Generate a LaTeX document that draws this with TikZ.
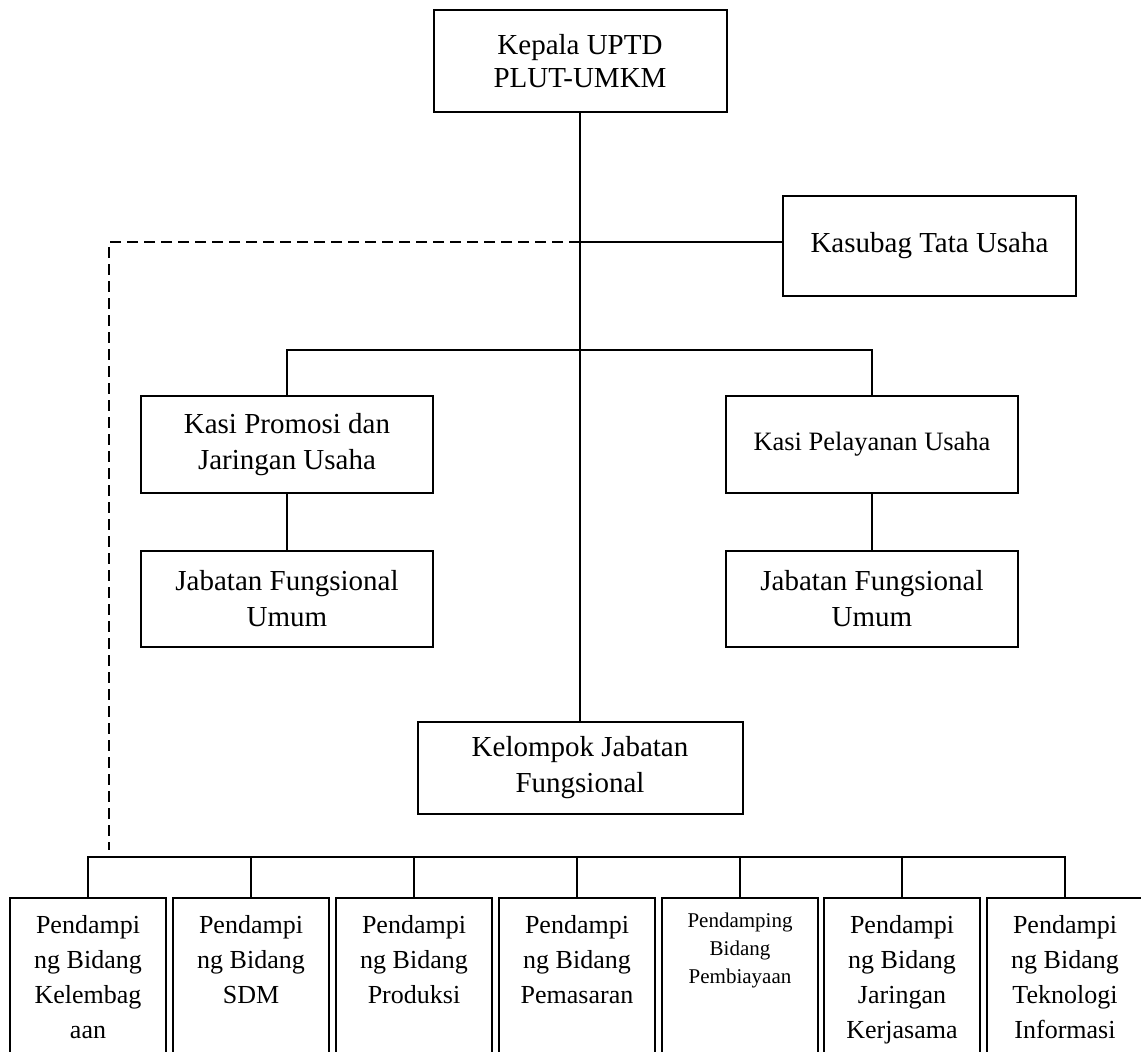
\documentclass[tikz,border=0pt]{standalone}
\usepackage{fontspec}
\setmainfont{Liberation Serif}
\begin{document}
\begin{tikzpicture}[x=1pt,y=-1pt,
  box/.style={draw, line width=2pt, inner sep=0pt, align=center, minimum width=#1},
  box/.default=293pt,
  big/.style={font=\fontsize{29pt}{36pt}\selectfont},
  conn/.style={line width=1.8pt},
  dashconn/.style={line width=1.8pt, dash pattern=on 11pt off 6pt},
  lower/.style={draw, line width=2pt, inner sep=0pt, minimum width=156pt, minimum height=164pt}
]
\useasboundingbox (0,0) rectangle (1141,1052);
% top level
\node[box, big, minimum height=102pt, font=\fontsize{29pt}{33pt}\selectfont] (top) at (580,61) {Kepala UPTD\\PLUT-UMKM};
\node[box, big, minimum height=100pt] (ks) at (929.5,246) {Kasubag Tata Usaha};
% kasi
\node[box=292pt, big, minimum height=97pt] (k1) at (287,444.5) {Kasi Promosi dan\\Jaringan Usaha};
\node[box=292pt, minimum height=97pt, font=\fontsize{26.5pt}{32pt}\selectfont] (k2) at (872,444.5) {Kasi Pelayanan Usaha};
\node[box=292pt, big, minimum height=96pt] (j1) at (287,599) {Jabatan Fungsional\\Umum};
\node[box=292pt, big, minimum height=96pt] (j2) at (872,599) {Jabatan Fungsional\\Umum};
\node[box=325pt, big, minimum height=92pt] (kel) at (580,768) {Kelompok Jabatan\\Fungsional};
% bottom row
\newcommand{\lowtext}[1]{\parbox[c][164pt][t]{152pt}{\centering\fontsize{26pt}{35pt}\selectfont\rule{0pt}{35pt}#1}}
\newcommand{\lowsmall}[1]{\parbox[c][164pt][t]{152pt}{\centering\fontsize{21pt}{28pt}\selectfont\rule{0pt}{29pt}#1}}
\node[lower] (b1) at (88,980) {\lowtext{Pendampi\\ng Bidang\\Kelembag\\aan}};
\node[lower] (b2) at (251,980) {\lowtext{Pendampi\\ng Bidang\\SDM}};
\node[lower] (b3) at (414,980) {\lowtext{Pendampi\\ng Bidang\\Produksi}};
\node[lower] (b4) at (577,980) {\lowtext{Pendampi\\ng Bidang\\Pemasaran}};
\node[lower] (b5) at (740,980) {\lowsmall{Pendamping\\Bidang\\Pembiayaan}};
\node[lower] (b6) at (902,980) {\lowtext{Pendampi\\ng Bidang\\Jaringan\\Kerjasama}};
\node[lower] (b7) at (1065,980) {\lowtext{Pendampi\\ng Bidang\\Teknologi\\Informasi}};
% junctions
\coordinate (jks) at (top.south |- 0,242);
\coordinate (bar1) at (top.south |- 0,350);
\coordinate (bar2) at (top.south |- 0,857);
\coordinate (dend) at (109,850);
% connectors
\draw[conn] (top.south) -- (kel.north);
\draw[conn] (jks) -- (jks -| ks.west);
\draw[dashconn] (jks) -| (dend);
\draw[conn] (k1.north) |- (bar1) -| (k2.north);
\draw[conn] (k1.south) -- (j1.north);
\draw[conn] (k2.south) -- (j2.north);
\draw[conn] (b1.north) |- (bar2) -| (b7.north);
\foreach \b in {b2,b3,b4,b5,b6} \draw[conn] (\b.north) -- (\b.north |- bar2);
\end{tikzpicture}
\end{document}
